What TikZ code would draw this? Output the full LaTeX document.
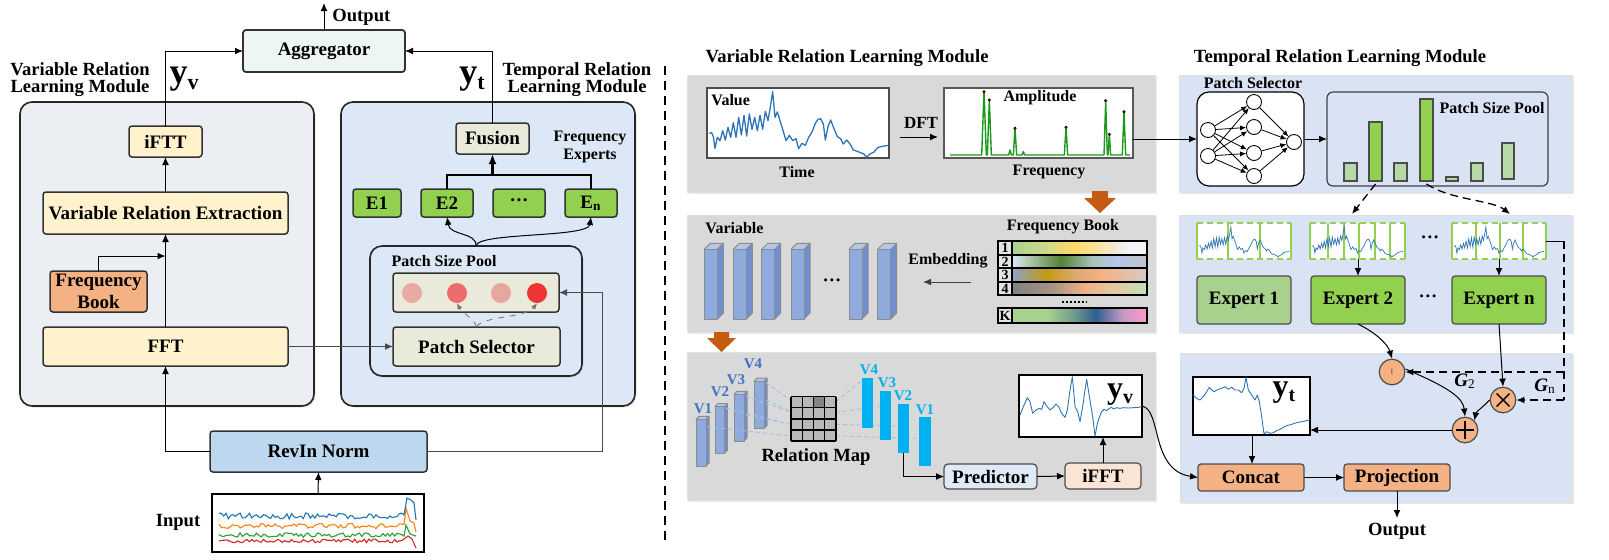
\documentclass[tikz,border=0pt]{standalone}
\usepackage{fontspec}
\setmainfont{Liberation Serif}
\usetikzlibrary{arrows.meta,fit,shadows,calc}
\newcommand\myfs[1]{\fontsize{#1}{#1}\selectfont}
\newcommand\fitbox[7]{\node[#1, fit={(#3,#4) (#5,#6)}] (#2) {};\node[txt] (#2-t) at (#2.center) {#7};}
\newcommand\vcube[5]{%
 \fill[cubeF] (#1,#2) rectangle (#3,#4);
 \fill[cubeS] (#3,#2) -- ++(#5,-#5) -- ++(0,{(#4)-(#2)}) -- (#3,#4) -- cycle;
 \fill[cubeT] (#1,#2) -- ++(#5,-#5) -- ++({(#3)-(#1)},0) -- (#3,#2) -- cycle;
 \draw[black!45, line width=0.5pt, line join=round] (#1,#2) rectangle (#3,#4);
 \draw[black!45, line width=0.5pt, line join=round] (#3,#2) -- ++(#5,-#5) -- ++(0,{(#4)-(#2)}) -- (#3,#4);
 \draw[black!45, line width=0.5pt, line join=round] (#1,#2) -- ++(#5,-#5) -- ++({(#3)-(#1)},0);}
\newcommand\valcurve[1]{\draw[#1] plot coordinates {(148,280) (155,278) (160,290) (165,325) (172,292) (180,302) (188,272) (196,300) (204,262) (212,292) (220,248) (228,292) (236,232) (244,285) (252,226) (260,288) (268,222) (276,268) (284,232) (292,272) (300,226) (308,268) (316,214) (324,242) (331,200) (338,155) (345,232) (352,216) (360,242) (368,268) (378,302) (388,286) (398,302) (408,296) (416,326) (426,310) (436,316) (446,292) (456,276) (466,250) (474,238) (482,236) (490,252) (496,300) (504,260) (512,240) (522,266) (532,290) (542,296) (550,312) (560,300) (570,312) (580,330) (592,334) (602,338) (612,342) (619,352) (630,342) (642,336) (652,324) (662,320) (672,318) (685,316)};}
\newcommand\patchgrp[4]{%
 \fill[white] (#1,223) rectangle (#2,259);
 \draw[egreen, line width=0.6pt, dash pattern=on 3pt off 2pt] (#1,223) -- (#2,223) (#1,259) -- (#2,259);
 \foreach \bx in {#1,#3,#2} \draw[egreen, line width=0.6pt] (\bx,223) -- (\bx,259);
 \begin{scope}[shift={({#1+2},227)}, xscale={((#2)-(#1)-4)/537}, yscale={30/197}]
  \begin{scope}[shift={(-148,-155)}]\valcurve{cblue, line width=0.35pt}\end{scope}
 \end{scope}
 \node[fit={(#1,223) (#2,259)}, inner sep=0pt] (#4) {};}
\definecolor{modLfill}{HTML}{EBEEF3}
\definecolor{modRfill}{HTML}{DCE8F5}
\definecolor{yel}{HTML}{FFF2CC}
\definecolor{fbookc}{HTML}{F4B183}
\definecolor{aggfill}{HTML}{EEF6F1}
\definecolor{beige}{HTML}{EAEADB}
\definecolor{egreen}{HTML}{92D050}
\definecolor{lgreen}{HTML}{A9D18E}
\definecolor{pgreen}{HTML}{B7D9A8}
\definecolor{revinc}{HTML}{BDD7EE}
\definecolor{gboxc}{HTML}{D9D9D9}
\definecolor{tboxc}{HTML}{DAE3F3}
\definecolor{predf}{HTML}{DEEBF7}
\definecolor{ifftf}{HTML}{FBE5D6}
\definecolor{peach}{HTML}{F4B183}
\definecolor{oarrow}{HTML}{C55A11}
\definecolor{cubeF}{HTML}{8FAADC}
\definecolor{cubeS}{HTML}{6F8FD0}
\definecolor{cubeT}{HTML}{B4C7E7}
\definecolor{cyanbar}{HTML}{00B0F0}
\definecolor{vdark}{HTML}{4472C4}
\definecolor{dline}{HTML}{9DC3E6}
\definecolor{cblue}{HTML}{2E75B6}
\definecolor{mblue}{HTML}{1F77B4}
\definecolor{morange}{HTML}{FF7F0E}
\definecolor{mgreen}{HTML}{2CA02C}
\definecolor{mred}{HTML}{D62728}
\definecolor{agreen}{HTML}{1A9A1A}
\definecolor{rdot}{HTML}{C00000}
\definecolor{pc1}{HTML}{E9AAA4}
\definecolor{pc2}{HTML}{EE6B6B}
\definecolor{pc3}{HTML}{E8A6A0}
\definecolor{pc4}{HTML}{EE3535}
\definecolor{fa1}{HTML}{A9D18E}\definecolor{fa2}{HTML}{C8D88C}\definecolor{fa3}{HTML}{FFD966}\definecolor{fa4}{HTML}{F5E9C8}\definecolor{fa5}{HTML}{F2F4F8}
\definecolor{fb1}{HTML}{DCE9F0}\definecolor{fb2}{HTML}{548235}\definecolor{fb3}{HTML}{A9C4C0}\definecolor{fb4}{HTML}{B4C7E7}\definecolor{fb5}{HTML}{C0C4C8}
\definecolor{fc1}{HTML}{8FA3C8}\definecolor{fc2}{HTML}{C49A10}\definecolor{fc3}{HTML}{DDA870}\definecolor{fc4}{HTML}{F4B183}\definecolor{fc5}{HTML}{D5CBC4}
\definecolor{fd1}{HTML}{808080}\definecolor{fd2}{HTML}{A89484}\definecolor{fd3}{HTML}{F0B185}\definecolor{fd4}{HTML}{E5C8A0}\definecolor{fd5}{HTML}{C5E0B4}
\definecolor{fk1}{HTML}{A9D18E}\definecolor{fk3}{HTML}{6F9A8C}\definecolor{fk4}{HTML}{2F5F8F}\definecolor{fk5}{HTML}{C59AC6}\definecolor{fk6}{HTML}{FF99CC}
\pgfdeclarehorizontalshading{shA}{100bp}{color(0bp)=(fa1); color(25bp)=(fa1); color(36bp)=(fa2); color(48bp)=(fa3); color(62bp)=(fa4); color(68bp)=(fa5); color(100bp)=(fa5)}
\pgfdeclarehorizontalshading{shB}{100bp}{color(0bp)=(fb1); color(25bp)=(fb1); color(43bp)=(fb2); color(55bp)=(fb3); color(63bp)=(fb4); color(75bp)=(fb5); color(100bp)=(fb5)}
\pgfdeclarehorizontalshading{shC}{100bp}{color(0bp)=(fc1); color(25bp)=(fc1); color(38bp)=(fc2); color(48bp)=(fc3); color(58bp)=(fc4); color(75bp)=(fc5); color(100bp)=(fc5)}
\pgfdeclarehorizontalshading{shD}{100bp}{color(0bp)=(fd1); color(25bp)=(fd1); color(40bp)=(fd2); color(52bp)=(fd3); color(62bp)=(fd4); color(75bp)=(fd5); color(100bp)=(fd5)}
\pgfdeclarehorizontalshading{shK}{100bp}{color(0bp)=(fk1); color(25bp)=(fk1); color(38bp)=(fk1); color(48bp)=(fk3); color(56bp)=(fk4); color(66bp)=(fk5); color(75bp)=(fk6); color(100bp)=(fk6)}
\begin{document}
\begin{tikzpicture}[x=0.5pt,y=-0.5pt,
  arr/.style={-{Latex[length=4pt,width=3.4pt]},line width=0.5pt},
  sarr/.style={-{Latex[length=3pt,width=2.6pt]},line width=0.4pt},
  txt/.style={inner sep=0pt, font=\bfseries\fontsize{9.5}{11}\selectfont, align=center},
  bx/.style={inner sep=0pt, outer sep=0pt, draw=black!80, line width=0.75pt, rounded corners=1.5pt},
  rbx/.style={inner sep=0pt, outer sep=0pt, draw=black!70, line width=0.6pt, rounded corners=2pt},
  panel/.style={inner sep=0pt, outer sep=0pt, draw=black!12, line width=0.4pt, drop shadow={shadow xshift=0.8pt, shadow yshift=-0.8pt, opacity=0.18}},
  module/.style={inner sep=0pt, outer sep=0pt, draw=black!85, line width=0.8pt, rounded corners=6pt, drop shadow={shadow xshift=0.8pt, shadow yshift=-0.8pt, opacity=0.2}},
  lbl/.style={font=\bfseries\myfs{9.3}, align=center, inner sep=0pt},
  slbl/.style={font=\bfseries\myfs{8}, align=center, inner sep=0pt},
  pbox/.style={inner sep=0pt, outer sep=0pt, draw=black!75, line width=0.6pt, fill=white},
  pc/.style={circle, inner sep=0pt, minimum size=10pt},
  nn/.style={circle, draw=black, line width=0.45pt, fill=white, inner sep=0pt, minimum size=7.5pt},
  gate/.style={circle, draw=black!70, line width=0.6pt, fill=peach, inner sep=0pt, minimum size=12.8pt},
  pbar/.style={inner sep=0pt, outer sep=0pt, draw=black!70, line width=0.6pt},
  vl/.style={font=\bfseries\myfs{7.5}, inner sep=0pt},
  dl/.style={dline, line width=0.45pt, dash pattern=on 2pt off 1.5pt}
]
\useasboundingbox (0,0) rectangle (1609,559);
% ================= LEFT PART =================
\fitbox{module, fill=modLfill}{modL}{20}{102}{314}{406}{}
\fitbox{module, fill=modRfill}{modR}{341}{102}{635}{406}{}
\node[lbl, font=\bfseries\fontsize{9.3}{8.5}\selectfont] at (80,80) {Variable Relation\\Learning Module};
\node[lbl, font=\bfseries\fontsize{9.3}{8.5}\selectfont] at (577,80) {Temporal Relation\\Learning Module};
\fitbox{bx, fill=aggfill, line width=0.9pt}{agg}{243}{30}{405}{72}{Aggregator}
\coordinate (outTop) at (324,3);
\node[lbl, anchor=west] at (332,17) {Output};
\node[font=\bfseries\myfs{18}, inner sep=0pt] at (184,79) {y\raisebox{-3pt}{\myfs{11}v}};
\node[font=\bfseries\myfs{18}, inner sep=0pt] at (472,79) {y\raisebox{-3pt}{\myfs{11}t}};
\fitbox{bx, fill=yel}{iftt}{129}{126}{202}{157}{iFTT}
\fitbox{bx, fill=yel}{vre}{43}{192}{288}{234}{Variable Relation Extraction}
\fitbox{bx, fill=fbookc}{fbook}{50}{271}{147}{312}{Frequency\\Book}
\fitbox{bx, fill=yel}{fft}{43}{327}{288}{366}{FFT}
\fitbox{bx, fill=beige}{fusion}{456}{123}{529}{154}{Fusion}
\node[slbl, font=\bfseries\fontsize{8}{9}\selectfont] at (590,147) {Frequency\\Experts};
\fitbox{bx, fill=egreen}{e1}{353}{189}{401}{217}{E1}
\fitbox{bx, fill=egreen}{e2}{421}{189}{473}{217}{E2}
\fitbox{bx, fill=egreen}{edots}{493}{189}{545}{217}{···}
\fitbox{bx, fill=egreen}{en}{565}{189}{617}{217}{E\textsubscript{n}}
\fitbox{module, fill=modRfill}{pool}{370}{246}{582}{376}{}
\node[slbl] at (444,261) {Patch Size Pool};
\fitbox{bx, fill=beige}{circbox}{393}{273}{559}{312}{}
\node[pc, fill=pc1] (c1) at (412,293) {};
\node[pc, fill=pc2] (c2) at (457,293) {};
\node[pc, fill=pc3] (c3) at (501,293) {};
\node[pc, fill=pc4] (c4) at (537,293) {};
\fitbox{bx, fill=beige}{psel}{393}{327}{560}{366}{Patch Selector}
\fitbox{bx, fill=revinc}{revin}{210}{431}{427}{472}{RevIn Norm}
\fitbox{pbox, draw=black, line width=0.7pt}{inbox}{212}{494}{424}{552}{}
\node[lbl] at (178,522) {Input};
\pgfmathsetseed{11}
\begin{scope}
 \clip (213,495) rectangle (423,551);
 \draw[mred, line width=0.55pt] plot[domain=219:404, samples=80] (\x,{541+2*rand}) -- (408,536) -- (412,539) -- (416,548);
 \draw[mgreen, line width=0.55pt] plot[domain=219:404, samples=80] (\x,{535+2.2*rand}) -- (406,525) -- (410,534) -- (416,536);
 \draw[morange, line width=0.55pt] plot[domain=219:404, samples=80] (\x,{526+2.6*rand}) -- (406,508) -- (410,521) -- (414,523) -- (416,532);
 \draw[mblue, line width=0.55pt] plot[domain=219:404, samples=80] (\x,{516+3*rand}) -- (407,498) -- (411,500) -- (414,503) -- (416,520);
\end{scope}
% connectors left
\draw[arr] (agg.north) -- (outTop);
\draw[arr] (iftt.north) |- (agg.west);
\draw[arr] (fusion.north) |- (agg.east);
\draw[arr] (vre.north) -- (iftt.south);
\draw[arr] (fft.north) -- (vre.south);
\coordinate (fbj) at (165.5,256);
\draw[arr] (fbook.north) |- (fbj);
\draw[arr] (revin.west) -| (fft.south);
\coordinate (rj) at (602,451);
\draw[arr, black!70] (revin.east) -| (rj |- circbox.east) -- (circbox.east);
\draw[arr, black!70] (fft.east) -- (psel.west);
\draw[arr] (inbox.north) -- (revin.south);
\coordinate (brk) at (492.5,175);
\draw[line width=0.6pt] (e2.north) |- (brk) -| (en.north);
\draw[-{Latex[length=5pt,width=4pt]}, line width=1.1pt] (brk) -- (fusion.south);
\draw[arr] (pool.north) .. controls (477,232) and (450,236) .. (e2.south);
\draw[arr] (pool.north) .. controls (477,232) and (588,238) .. (en.south);
\draw[sarr, dashed, black!55] (psel.north) .. controls (474,318) and (463,314) .. (c2.south);
\draw[sarr, dashed, black!55] (psel.north) .. controls (482,316) and (525,318) .. (c4.south);
% divider
\draw[line width=0.7pt, dash pattern=on 4.5pt off 3pt] (665,66) -- (665,546);
% ================= RIGHT PART : VARIABLE =================
\node[lbl] at (847,58) {Variable Relation Learning Module};
\node[lbl] at (1340,58) {Temporal Relation Learning Module};
\fitbox{panel, fill=gboxc}{gb1}{687}{75}{1155}{192}{}
\fitbox{panel, fill=gboxc}{gb2}{687}{215}{1155}{332}{}
\fitbox{panel, fill=gboxc}{gb3}{687}{352}{1155}{500}{}
\fitbox{panel, fill=tboxc}{tb1}{1179}{75}{1572}{192}{}
\fitbox{panel, fill=tboxc}{tb2}{1179}{215}{1572}{332}{}
\fitbox{panel, fill=tboxc}{tb3}{1180}{353}{1572}{502}{}
% value plot
\fitbox{pbox, draw=black!70}{vplot}{707}{88}{889}{158}{}
\begin{scope}[shift={(660,40)}, scale=1/3]
 \valcurve{cblue, line width=0.65pt, line join=round}
\end{scope}
\node[slbl, anchor=west] at (711,100) {Value};
\node[slbl] at (797,172) {Time};
\coordinate (dftS) at (900,137);
\coordinate (dftE) at (938,137);
\draw[arr] (dftS) -- (dftE);
\node[slbl, font=\bfseries\myfs{8.5}] at (921,123) {DFT};
\fitbox{pbox, draw=black!65, line width=1.1pt}{aplot}{944}{88}{1133}{158}{}
\begin{scope}[shift={(660,40)}, scale=1/3]
 \draw[agreen, line width=0.7pt, line join=round] (870,345) -- (965,345) -- (972,155) -- (979,345) -- (982,345) -- (988,180) -- (994,345) -- (1046,345) -- (1050,330) -- (1054,345) -- (1060,345) -- (1065,265) -- (1070,345) -- (1086,345) -- (1090,335) -- (1094,345) -- (1213,345) -- (1218,262) -- (1223,345) -- (1332,345) -- (1337,182) -- (1342,345) -- (1344,345) -- (1348,283) -- (1352,345) -- (1387,345) -- (1392,215) -- (1397,345) -- (1410,345);
 \foreach \px/\py in {972/155, 988/180, 1065/265, 1218/262, 1337/182, 1348/283, 1392/215}
   \fill[rdot, draw=black, line width=0.2pt] (\px,\py) circle (4);
\end{scope}
\node[slbl] at (1040,98) {Amplitude};
\node[slbl] at (1049,172) {Frequency};
% orange arrows
\fill[oarrow] (1092,191) -- (1108,191) -- (1108,198) -- (1116,198) -- (1100,213) -- (1084,198) -- (1092,198) -- cycle;
\fill[oarrow] (714,332) -- (729,332) -- (729,338) -- (736,338) -- (721.5,352) -- (707,338) -- (714,338) -- cycle;
% variable cubes
\node[slbl, anchor=west] at (705,228) {Variable};
\begin{scope}[shift={(660,190)}, scale=1/3]
 \foreach \dx in {0,87,172,260,434,520} {\vcube{133+\dx}{178}{172+\dx}{387}{18}}
\end{scope}
\node[lbl] at (832,283) {···};
\node[slbl] at (948,261) {Embedding};
\node[slbl] at (1063,227) {Frequency Book};
\foreach \ya/\yb/\sh/\lab in {241/255/shA/1, 255/268/shB/2, 268/282/shC/3, 282/295/shD/4, 308/323/shK/K} {
  \fill[gboxc!70!white] (998,\ya) rectangle (1012,\yb);
  \shade[shading=\sh] (1012,\ya) rectangle (1147,\yb);
  \draw[black, line width=0.6pt] (998,\ya) rectangle (1147,\yb) (1012,\ya) -- (1012,\yb);
  \node[font=\bfseries\myfs{7}, inner sep=0pt] at (1005,{(\ya+\yb)/2}) {\lab};
}
\draw[line width=1pt, dash pattern=on 1.2pt off 0.8pt] (1062,302) -- (1087,302);
\node[fit={(998,241) (1147,323)}, inner sep=0pt] (fbR) {};
\coordinate (embEnd) at (923,281);
\draw[arr, black!75] ([xshift=-13.5pt]fbR.west) -- (embEnd |- fbR.west);
% relation map section
\begin{scope}[shift={(660,330)}, scale=1/3]
 \vcube{108}{268}{138}{408}{9}
 \vcube{165}{230}{193}{370}{9}
 \vcube{222}{193}{252}{333}{9}
 \vcube{283}{153}{312}{295}{9}
 \draw[dl] (318,158) -- (393,212);
 \draw[dl] (318,210) -- (393,246);
 \draw[dl] (258,200) -- (393,246);
 \draw[dl] (258,255) -- (393,283);
 \draw[dl] (198,235) -- (393,283);
 \draw[dl] (142,290) -- (393,318);
 \draw[dl] (528,215) -- (607,150);
 \draw[dl] (528,248) -- (660,228);
 \draw[dl] (528,283) -- (713,288);
 \draw[dl] (528,318) -- (777,325);
 \foreach \i in {0,...,3} \foreach \j in {0,...,3} \fill[black!28] (393+\i*33.75,200+\j*33.25) rectangle ++(33.75,33.25);
 \fill[black!48] (393+2*33.75,200) rectangle ++(33.75,33.25);
 \foreach \k in {0,...,4} {\draw[line width=0.7pt] (393+\k*33.75,200) -- ++(0,133); \draw[line width=0.7pt] (393,200+\k*33.25) -- ++(135,0);}
 \fill[cyanbar] (607,145) rectangle (640,293);
 \fill[cyanbar] (660,183) rectangle (693,330);
 \fill[cyanbar] (713,222) rectangle (747,368);
 \fill[cyanbar] (777,260) rectangle (812,407);
\end{scope}
\node[vl, text=vdark] at (703,409) {V1};
\node[vl, text=vdark] at (720,392) {V2};
\node[vl, text=vdark] at (736,380) {V3};
\node[vl, text=vdark] at (753,364) {V4};
\node[vl, text=cyanbar] at (869,370) {V4};
\node[vl, text=cyanbar] at (887,383) {V3};
\node[vl, text=cyanbar] at (903,396) {V2};
\node[vl, text=cyanbar] at (925,410) {V1};
\node[lbl] at (816,457) {Relation Map};
\coordinate (v2bot) at (903.5,453);
\fitbox{rbx, fill=predf}{pred}{944}{464}{1037}{489}{Predictor}
\fitbox{rbx, fill=ifftf}{ifftR}{1065}{463}{1141}{489}{iFFT}
\fitbox{pbox, draw=black, line width=0.7pt}{yvplot}{1019}{375}{1142}{437}{}
\begin{scope}[shift={(980,330)}, scale=1/3]
 \draw[cblue, line width=0.45pt, line join=round] plot coordinates {(120,255) (130,230) (142,203) (150,215) (158,250) (168,240) (178,235) (185,238) (192,215) (200,228) (210,240) (220,232) (228,222) (236,230) (245,250) (255,262) (262,240) (270,180) (277,140) (285,230) (293,245) (300,275) (308,230) (315,180) (320,148) (328,200) (338,260) (345,318) (352,280) (358,262) (365,245) (372,238) (380,242) (388,235) (395,232) (400,237) (410,233) (420,235) (430,233) (445,234) (460,233) (475,232) (486,230)};
\end{scope}
\node[font=\bfseries\myfs{16}, inner sep=0pt] at (1120,395) {y\raisebox{-2.5pt}{\myfs{10}v}};
\draw[arr] (v2bot) |- (pred.west);
\draw[arr] (pred.east) -- (ifftR.west);
\draw[arr] (ifftR.north) -- (ifftR.north |- yvplot.south);
% ================= RIGHT PART : TEMPORAL =================
\node[slbl] at (1253,83) {Patch Selector};
\fitbox{pbox, draw=black, rounded corners=6pt}{nnbox}{1197}{92}{1304}{186}{}
\node[nn] (i1) at (1208,130) {};
\node[nn] (i2) at (1208,156) {};
\node[nn] (h1) at (1254,102) {};
\node[nn] (h2) at (1254,127) {};
\node[nn] (h3) at (1254,153) {};
\node[nn] (h4) at (1254,176) {};
\node[nn] (o1) at (1294,142) {};
\foreach \a in {i1,i2} \foreach \b in {h1,h2,h3,h4} \draw[sarr] (\a) -- (\b);
\foreach \b in {h1,h2,h3,h4} \draw[sarr] (\b) -- (o1);
\draw[arr] (aplot.east |- nnbox.west) -- (nnbox.west);
\fitbox{pbox, fill=none, draw=black!75, rounded corners=3pt}{poolR}{1327}{92}{1548}{186}{}
\draw[arr] (nnbox.east) -- (poolR.west);
\node[slbl] at (1492,108) {Patch Size Pool};
\fitbox{pbar, fill=pgreen}{bar1}{1344}{163}{1357}{181}{}
\fitbox{pbar, fill=egreen}{bar2}{1369}{122}{1382}{181}{}
\fitbox{pbar, fill=pgreen}{bar3}{1394}{163}{1407}{181}{}
\fitbox{pbar, fill=egreen}{bar4}{1420}{99}{1433}{181}{}
\fitbox{pbar, fill=pgreen}{bar5}{1446}{177}{1458}{181}{}
\fitbox{pbar, fill=pgreen}{bar6}{1471}{163}{1483}{181}{}
\fitbox{pbar, fill=pgreen}{bar7}{1502}{143}{1514}{179}{}
\patchgrp{1197}{1291}{1228,1260}{grp1}
\patchgrp{1310}{1405}{1328,1344,1359,1375,1390}{grp2}
\patchgrp{1452}{1546}{1476,1500,1523}{grp3}
\node[lbl] at (1430,240) {···};
\coordinate (d1end) at (1352,214);
\coordinate (d2end) at (1510,214);
\draw[arr, line width=0.65pt, dash pattern=on 4pt off 2.5pt] (bar2.south) ++(0,3) -- (d1end);
\draw[arr, line width=0.65pt, dash pattern=on 4pt off 2.5pt] ([yshift=-1.5pt]bar4.south) .. controls (1450,200) and (1492,200) .. (d2end);
\fitbox{rbx, fill=lgreen, rounded corners=1.5pt}{exp1}{1197}{276}{1291}{324}{Expert 1}
\fitbox{rbx, fill=egreen, rounded corners=1.5pt}{exp2}{1311}{276}{1405}{324}{Expert 2}
\fitbox{rbx, fill=egreen, rounded corners=1.5pt}{expn}{1452}{276}{1546}{324}{Expert n}
\node[lbl] at (1428,299) {···};
\draw[arr] (exp2.north |- grp2.south) -- (exp2.north);
\draw[arr] (expn.north |- grp3.south) -- (expn.north);
% gates
\node[gate] (g1) at (1392,372) {\myfs{4}\textcolor{oarrow!70!black}{I}};
\node[gate] (times) at (1503,400) {};
\node[gate] (plus) at (1465,430) {};
\draw[line width=0.8pt] ([xshift=-4.5pt]plus.center) -- ([xshift=4.5pt]plus.center) ([yshift=-4.5pt]plus.center) -- ([yshift=4.5pt]plus.center);
\draw[line width=0.7pt] ([shift={(-3.2pt,-3.2pt)}]times.center) -- ([shift={(3.2pt,3.2pt)}]times.center) ([shift={(-3.2pt,3.2pt)}]times.center) -- ([shift={(3.2pt,-3.2pt)}]times.center);
\coordinate (gr1) at (1564,241);
\coordinate (gr2) at (1564,372);
\coordinate (gr3) at (1564,400);
\draw[line width=0.5pt] (grp3.east |- gr1) -- (gr1);
\draw[line width=0.6pt, dash pattern=on 4pt off 2.5pt] (gr1) -- (gr3);
\draw[arr, line width=0.6pt, dash pattern=on 4pt off 2.5pt] (gr2) -- (g1.east);
\draw[arr, line width=0.6pt, dash pattern=on 4pt off 2.5pt] (gr3) -- (times.east);
\node[font=\bfseries\itshape\myfs{9.5}, inner sep=0pt] at (1465,381) {G\textsubscript{\upshape\mdseries 2}};
\node[font=\bfseries\itshape\myfs{9.5}, inner sep=0pt] at (1545,386) {G\textsubscript{\upshape\mdseries n}};
\draw[arr] (exp2.south) .. controls (1378,334) and (1388,345) .. (g1.north);
\draw[arr] (expn.south) -- (times.north);
\draw[arr] (g1.east) ++(0,-3) .. controls (1450,388) and (1463,398) .. (plus.north);
\draw[arr] (times.west) .. controls (1484,406) and (1476,412) .. (plus.north east);
\fitbox{pbox, draw=black, line width=0.7pt}{ytplot}{1193}{377}{1310}{435}{}
\begin{scope}[shift={(1140,330)}, scale=1/3]
 \draw[cblue, line width=0.45pt, line join=round] plot coordinates {(160,195) (170,205) (180,210) (190,200) (200,185) (208,172) (215,180) (222,185) (235,178) (245,175) (255,170) (265,178) (275,172) (285,180) (295,180) (305,188) (312,175) (318,142) (325,180) (335,195) (345,210) (352,195) (358,215) (365,260) (372,312) (380,305) (390,310) (400,308) (410,302) (420,298) (430,292) (440,287) (455,283) (470,278) (485,275) (500,272) (509,270)};
\end{scope}
\node[font=\bfseries\myfs{16}, inner sep=0pt] at (1284,393) {y\raisebox{-2.5pt}{\myfs{10}t}};
\draw[arr] (plus.west) -- (ytplot.east |- plus.west);
\fitbox{rbx, fill=peach, rounded corners=1.5pt}{concat}{1198}{464}{1304}{491}{Concat}
\fitbox{rbx, fill=peach, rounded corners=1.5pt}{proj}{1344}{464}{1450}{491}{Projection}
\draw[arr] (ytplot.south -| 1252,0) -- (concat.north -| 1252,0);
\draw[arr] (concat.east) -- (proj.west);
\coordinate (outR) at (1397,518);
\draw[arr] (proj.south) -- (outR);
\node[lbl] at (1397,531) {Output};
\draw[arr] (yvplot.east) .. controls (1162,410) and (1150,470) .. (concat.west);
\end{tikzpicture}
\end{document}
